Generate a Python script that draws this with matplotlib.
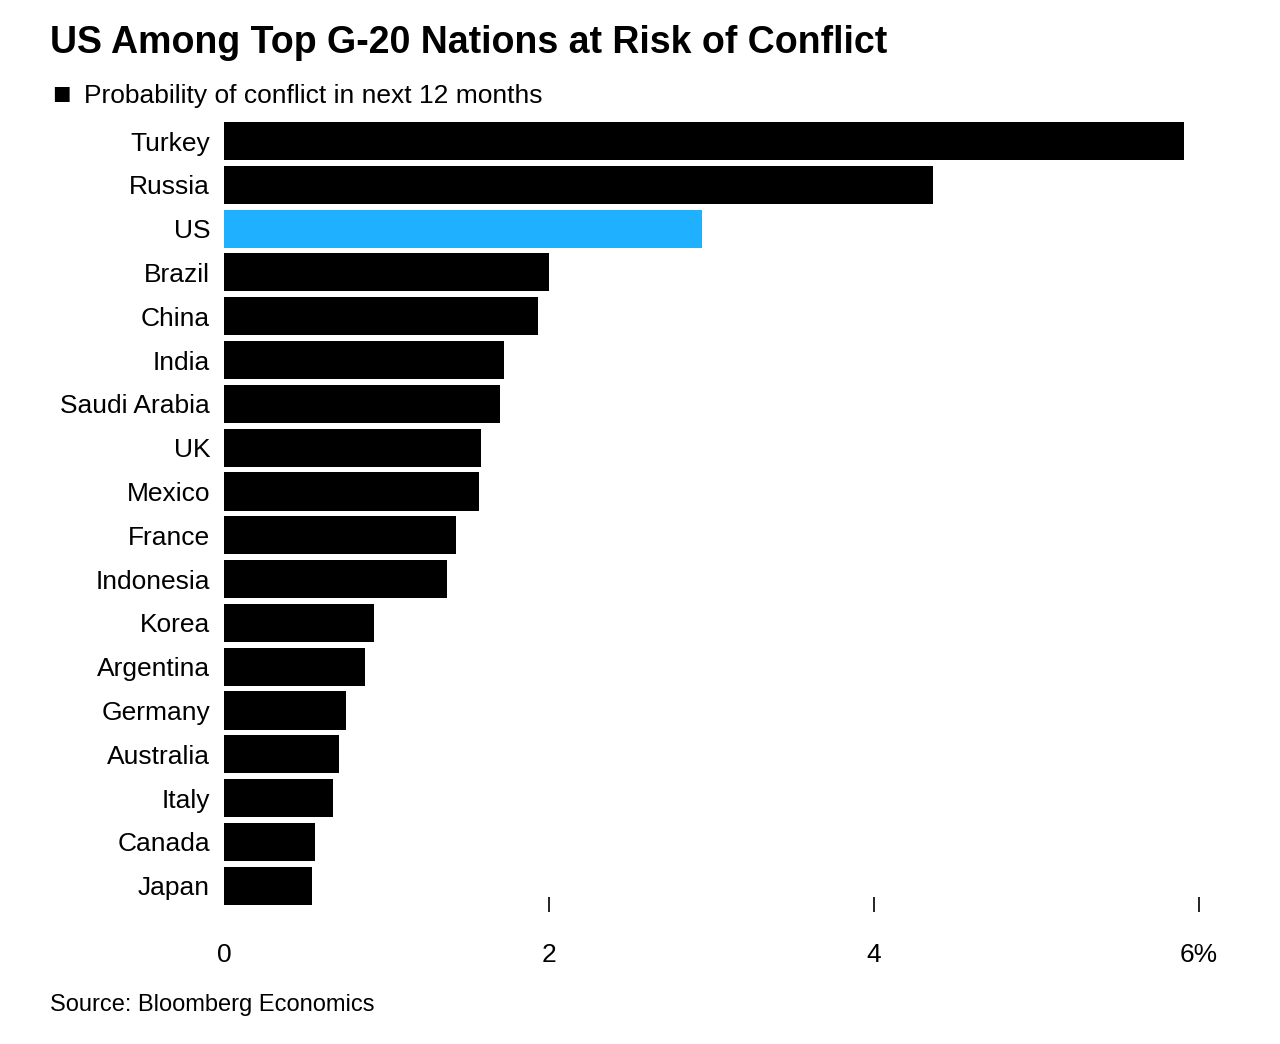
import matplotlib
matplotlib.use("Agg")
import matplotlib.pyplot as plt

countries = ["Turkey","Russia","US","Brazil","China","India","Saudi Arabia","UK","Mexico",
             "France","Indonesia","Korea","Argentina","Germany","Australia","Italy","Canada","Japan"]
values = [5.91,4.36,2.94,2.00,1.93,1.72,1.70,1.58,1.57,1.43,1.37,0.92,0.87,0.75,0.71,0.67,0.56,0.54]
highlight = "US"
tick_vals = [0,2,4,6]
tick_labels = ["0","2","4","6%"]

plt.rcParams["font.family"] = "Liberation Sans"
fig = plt.figure(figsize=(12.8,10.44), dpi=100)
ax = fig.add_axes([224/1280, 1-912/1044, (1199-224)/1280, (912-120)/1044])
colors = ["#1fb0ff" if c == highlight else "black" for c in countries]
ax.barh(range(len(countries)), values, height=0.87, color=colors)
ax.set_ylim(17.6, -0.48)
ax.set_xlim(0, 6)
ax.set_yticks(range(len(countries)))
ax.set_yticklabels(countries, fontsize=19)
ax.tick_params(axis="y", length=0, pad=10)
ax.set_xticks(tick_vals)
ax.set_xticklabels(tick_labels, fontsize=19)
ax.tick_params(axis="x", direction="in", length=11, width=1.2, color="black", pad=22)
ax.xaxis.get_major_ticks()[0].tick1line.set_visible(False)
for s in ax.spines.values():
    s.set_visible(False)

fig.text(50/1280, 1-43/1044, "US Among Top G-20 Nations at Risk of Conflict", fontsize=27,
         fontweight="bold", va="center", ha="left")
fig.text(52/1280, 1-96/1044, "\u25A0", fontsize=22, va="center", ha="left")
fig.text(84/1280, 1-96/1044, "Probability of conflict in next 12 months", fontsize=19, va="center", ha="left")
fig.text(50/1280, 1-1005/1044, "Source: Bloomberg Economics", fontsize=17, va="center", ha="left")
fig.savefig("out.png", dpi=100)
